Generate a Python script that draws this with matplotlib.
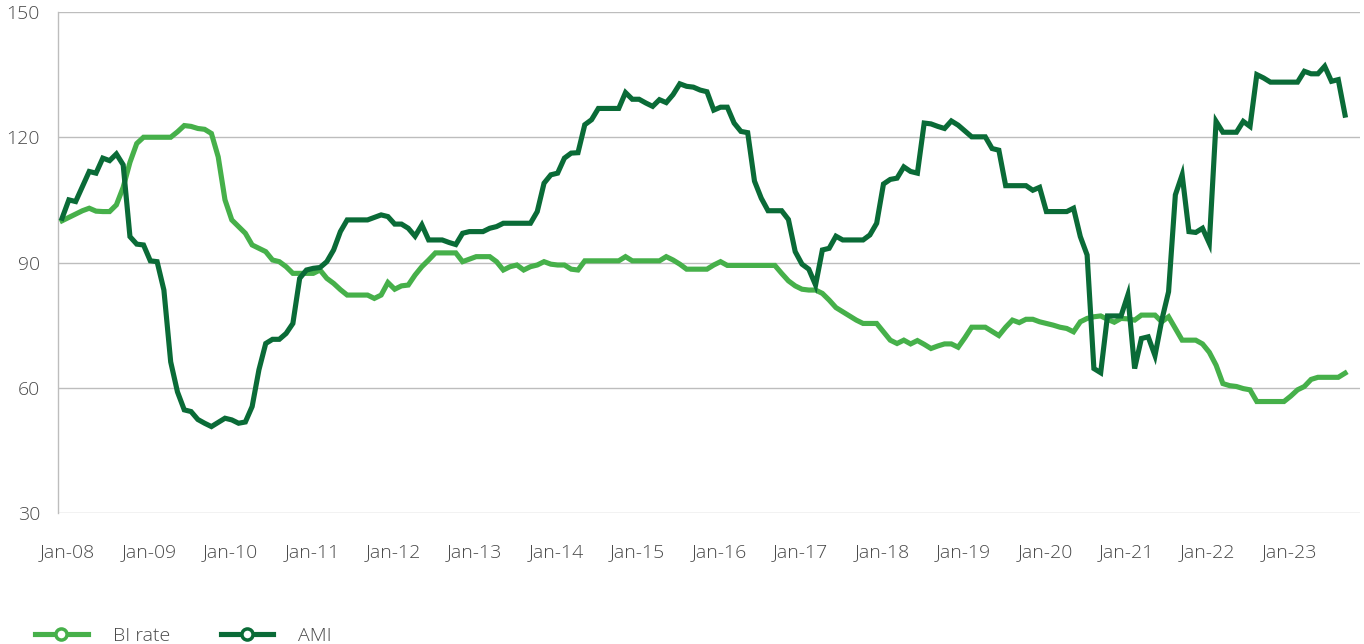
import matplotlib
matplotlib.use("Agg")
import matplotlib.pyplot as plt
from matplotlib.lines import Line2D

# monthly index, Jan-2008 = 100 (Jan-08 .. Oct-23)
bi_rate = [
    100.0, 100.8, 101.6, 102.4, 103.0, 102.3, 102.2, 102.2, 103.8, 108.0,
    114.0, 118.5, 120.0, 120.0, 120.0, 120.0, 120.0, 121.3, 122.8, 122.6,
    122.1, 121.9, 120.9, 115.3, 105.0, 100.2, 98.6, 97.0, 94.2, 93.4,
    92.6, 90.6, 90.2, 89.0, 87.4, 87.4, 87.4, 87.4, 88.2, 86.2,
    85.0, 83.5, 82.2, 82.2, 82.2, 82.2, 81.4, 82.2, 85.2, 83.6,
    84.4, 84.6, 87.0, 89.0, 90.6, 92.3, 92.3, 92.3, 92.3, 90.2,
    90.8, 91.4, 91.4, 91.4, 90.2, 88.2, 89.0, 89.4, 88.2, 89.0,
    89.4, 90.2, 89.6, 89.4, 89.4, 88.4, 88.2, 90.4, 90.4, 90.4,
    90.4, 90.4, 90.4, 91.4, 90.4, 90.4, 90.4, 90.4, 90.4, 91.4,
    90.6, 89.6, 88.4, 88.4, 88.4, 88.4, 89.4, 90.2, 89.3, 89.3,
    89.3, 89.3, 89.3, 89.3, 89.3, 89.3, 87.4, 85.6, 84.4, 83.6,
    83.4, 83.4, 82.6, 81.0, 79.2, 78.2, 77.2, 76.2, 75.4, 75.4,
    75.4, 73.4, 71.4, 70.6, 71.4, 70.5, 71.3, 70.4, 69.4, 70.0,
    70.5, 70.5, 69.7, 72.0, 74.5, 74.5, 74.5, 73.5, 72.5, 74.5,
    76.2, 75.6, 76.4, 76.4, 75.8, 75.4, 75.0, 74.5, 74.2, 73.4,
    75.8, 76.6, 77.0, 77.2, 76.4, 75.7, 76.6, 76.5, 76.2, 77.4,
    77.4, 77.4, 75.8, 77.0, 74.2, 71.4, 71.4, 71.4, 70.5, 68.5,
    65.4, 61.0, 60.5, 60.3, 59.8, 59.5, 56.7, 56.7, 56.7, 56.7,
    56.7, 58.0, 59.5, 60.3, 62.0, 62.5, 62.5, 62.5, 62.5, 63.5,
]

ami = [
    100.6, 105.0, 104.6, 108.2, 111.8, 111.4, 115.0, 114.4, 116.0, 113.4,
    96.2, 94.4, 94.2, 90.4, 90.2, 83.4, 66.2, 59.0, 54.7, 54.3,
    52.4, 51.5, 50.7, 51.7, 52.7, 52.3, 51.5, 51.8, 55.5, 64.3,
    70.6, 71.6, 71.6, 73.0, 75.4, 86.2, 88.2, 88.6, 88.8, 90.2,
    93.0, 97.4, 100.2, 100.2, 100.2, 100.2, 100.8, 101.4, 101.0, 99.2,
    99.2, 98.2, 96.3, 99.0, 95.4, 95.4, 95.4, 94.8, 94.3, 97.0,
    97.4, 97.4, 97.4, 98.2, 98.6, 99.4, 99.4, 99.4, 99.4, 99.4,
    102.2, 109.0, 111.0, 111.4, 115.0, 116.2, 116.3, 123.0, 124.2, 126.9,
    126.9, 126.9, 126.9, 130.7, 129.1, 129.1, 128.2, 127.4, 129.0, 128.3,
    130.2, 132.8, 132.2, 132.0, 131.3, 130.9, 126.5, 127.2, 127.2, 123.4,
    121.4, 121.1, 109.5, 105.4, 102.4, 102.4, 102.4, 100.3, 92.6, 89.6,
    88.4, 84.6, 93.0, 93.4, 96.3, 95.4, 95.4, 95.4, 95.4, 96.6,
    99.4, 108.8, 109.9, 110.2, 112.9, 111.8, 111.4, 123.4, 123.2, 122.6,
    122.1, 123.9, 122.9, 121.5, 120.1, 120.1, 120.1, 117.3, 116.9, 108.4,
    108.4, 108.4, 108.4, 107.3, 108.0, 102.2, 102.2, 102.2, 102.2, 103.0,
    96.2, 91.8, 64.6, 63.6, 77.2, 77.2, 77.2, 82.2, 64.6, 71.8,
    72.2, 67.7, 76.2, 83.0, 106.2, 111.0, 97.4, 97.2, 98.2, 94.6,
    123.8, 121.2, 121.2, 121.2, 123.8, 122.6, 135.0, 134.2, 133.2, 133.2,
    133.2, 133.2, 133.2, 135.8, 135.2, 135.2, 137.0, 133.4, 133.8, 125.3,
]

year_labels = ["Jan-%02d" % y for y in range(8, 24)]
y_ticks = [30, 60, 90, 120, 150]

LIGHT = "#46B04A"
DARK = "#0A6B37"
GRID = "#BDBDBD"
TEXT = "#4A4A4A"

plt.rcParams["font.family"] = ["Open Sans", "DejaVu Sans"]

fig = plt.figure(figsize=(13.64, 6.44), dpi=100)
ax = fig.add_axes([58 / 1364, 1 - 513 / 644, 1302 / 1364, 501 / 644])

months = list(range(len(bi_rate)))
ax.plot(months, bi_rate, color=LIGHT, lw=3.7, solid_joinstyle="miter", zorder=3)
ax.plot(months, ami, color=DARK, lw=3.7, solid_joinstyle="miter", zorder=4)

ax.set_ylim(30, 150)
ax.set_xlim(-0.6, 191.2)
ax.set_yticks(y_ticks)
ax.set_xticks([12 * k + 0.8 for k in range(len(year_labels))])
ax.set_xticklabels(year_labels)

ax.grid(axis="y", color=GRID, lw=1.0)
ax.set_axisbelow(True)
for side in ["top", "right", "bottom"]:
    ax.spines[side].set_visible(False)
ax.spines["left"].set_color(GRID)
ax.spines["left"].set_linewidth(1.0)

ax.tick_params(axis="both", length=0, labelsize=14, labelcolor=TEXT)
ax.tick_params(axis="x", pad=22)
ax.tick_params(axis="y", pad=13)
for lab in ax.get_xticklabels() + ax.get_yticklabels():
    lab.set_fontweight("light")

handles = [
    Line2D([], [], color=LIGHT, lw=3.7, marker="o", markersize=8,
           markerfacecolor="white", markeredgecolor=LIGHT, markeredgewidth=2.5),
    Line2D([], [], color=DARK, lw=3.7, marker="o", markersize=8,
           markerfacecolor="white", markeredgecolor=DARK, markeredgewidth=2.5),
]
leg = fig.legend(handles, ["BI rate", "AMI"], loc="center left",
                 bbox_to_anchor=(35 / 1364, 8 / 644), ncol=2, frameon=False,
                 fontsize=14, handlelength=2.7, handletextpad=1.3,
                 columnspacing=2.6, borderpad=0, borderaxespad=0)
for t in leg.get_texts():
    t.set_color(TEXT)
    t.set_fontweight("light")

fig.savefig("out.png", dpi=100)
